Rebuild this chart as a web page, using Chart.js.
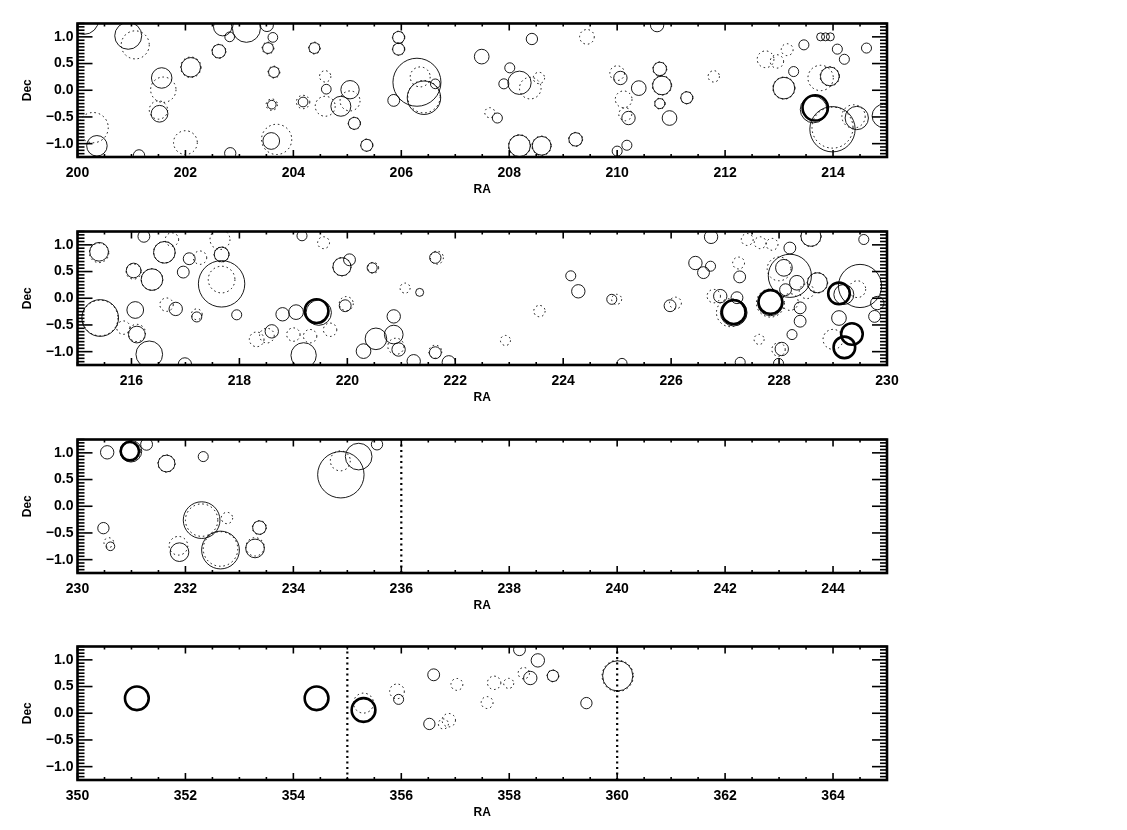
<!DOCTYPE html>
<html>
<head>
<meta charset="utf-8">
<script src="https://cdn.jsdelivr.net/npm/chart.js@4/dist/chart.umd.min.js"></script>
<style>
  body { margin: 0; background: #fff; }
  .panel { position: absolute; left: 0; width: 1127px; height: 207px; }
</style>
</head>
<body>
<div class="panel" style="top:0px"><canvas id="p1" width="1127" height="207"></canvas></div>
<div class="panel" style="top:208px"><canvas id="p2" width="1127" height="207"></canvas></div>
<div class="panel" style="top:416px"><canvas id="p3" width="1127" height="207"></canvas></div>
<div class="panel" style="top:623px"><canvas id="p4" width="1127" height="207"></canvas></div>
<script>
// [RA, Dec, radius in deg]
const p1Thin = [
  [200.12, 1.32, 0.27], [200.94, 1.02, 0.25], [201.56, 0.23, 0.19], [201.52, -0.44, 0.155],
  [202.10, 0.43, 0.18], [202.62, 0.73, 0.125], [202.69, 1.19, 0.17], [202.82, 1.0, 0.09],
  [203.13, 1.16, 0.26], [203.51, 1.22, 0.12], [203.62, 0.99, 0.09], [203.53, 0.79, 0.1],
  [203.64, 0.34, 0.1], [203.6, -0.27, 0.08], [203.59, -0.95, 0.155], [201.14, -1.22, 0.105],
  [202.83, -1.18, 0.105], [200.36, -1.04, 0.19], [204.39, 0.79, 0.1], [204.61, 0.02, 0.09],
  [204.18, -0.22, 0.09], [205.05, 0.01, 0.17], [204.88, -0.30, 0.185], [205.13, -0.62, 0.11],
  [205.36, -1.03, 0.11], [205.95, 0.99, 0.11], [205.95, 0.77, 0.11], [206.29, 0.15, 0.445],
  [206.42, -0.14, 0.31], [206.63, 0.12, 0.09], [205.86, -0.19, 0.11],
  [208.42, 0.96, 0.105], [207.49, 0.63, 0.136], [208.01, 0.42, 0.093], [207.9, 0.12, 0.093],
  [208.19, 0.14, 0.216], [207.78, -0.52, 0.093], [208.19, -1.04, 0.2], [208.6, -1.04, 0.173],
  [209.23, -0.92, 0.124], [210.18, -1.03, 0.093], [210.0, -1.14, 0.093], [210.74, 1.22, 0.124],
  [210.06, 0.23, 0.124], [210.40, 0.04, 0.136], [210.21, -0.52, 0.124], [210.79, 0.40, 0.124],
  [210.83, 0.09, 0.173], [210.79, -0.25, 0.093], [210.97, -0.52, 0.136], [211.29, -0.14, 0.11],
  [213.46, 0.85, 0.093], [213.27, 0.35, 0.093], [213.09, 0.04, 0.2], [213.77, 1.0, 0.074],
  [213.86, 1.0, 0.074], [213.95, 1.0, 0.074], [214.08, 0.77, 0.093], [214.21, 0.58, 0.093],
  [214.62, 0.79, 0.093], [213.94, 0.26, 0.173], [213.64, -0.36, 0.247], [213.99, -0.73, 0.42],
  [214.44, -0.52, 0.216], [214.94, -0.48, 0.216]
];
const p1Dotted = [
  [201.07, 0.85, 0.26], [201.59, 0.01, 0.235], [201.5, -0.37, 0.17], [202.10, 0.43, 0.19],
  [202.62, 0.73, 0.13], [203.53, 0.79, 0.11], [203.64, 0.34, 0.11], [203.6, -0.27, 0.105],
  [203.69, -0.92, 0.28], [202.0, -0.98, 0.22], [200.29, -0.70, 0.28], [204.39, 0.79, 0.11],
  [204.59, 0.26, 0.105], [204.18, -0.22, 0.124], [204.59, -0.30, 0.185], [205.05, -0.2, 0.185],
  [205.13, -0.62, 0.115], [205.36, -1.03, 0.115], [205.95, 0.99, 0.115], [205.95, 0.77, 0.115],
  [206.35, 0.25, 0.185], [206.42, -0.12, 0.3],
  [209.44, 1.0, 0.136], [208.39, 0.04, 0.2], [208.55, 0.23, 0.105], [207.64, -0.42, 0.093],
  [208.19, -1.04, 0.205], [208.6, -1.04, 0.18], [209.23, -0.92, 0.13], [210.0, 0.32, 0.136],
  [210.12, -0.17, 0.155], [210.15, -0.45, 0.12], [210.79, 0.40, 0.13], [210.83, 0.09, 0.18],
  [210.79, -0.25, 0.1], [211.29, -0.14, 0.115], [211.79, 0.26, 0.105], [212.75, 0.58, 0.155],
  [212.96, 0.54, 0.124], [213.15, 0.76, 0.11], [213.09, 0.04, 0.205], [213.77, 0.23, 0.235],
  [213.94, 0.26, 0.18], [213.99, -0.7, 0.38], [214.38, -0.49, 0.216]
];
const p1Thick = [[213.67, -0.33, 0.235]];

const p2Thin = [
  [215.40, 0.87, 0.173], [216.23, 1.16, 0.11], [216.04, 0.52, 0.136], [216.38, 0.35, 0.2],
  [216.61, 0.86, 0.2], [217.07, 0.74, 0.11], [216.96, 0.49, 0.11], [217.67, 0.82, 0.136],
  [217.67, 0.27, 0.43], [217.95, -0.31, 0.093], [215.42, -0.37, 0.34], [216.07, -0.22, 0.155],
  [216.1, -0.68, 0.155], [216.33, -1.05, 0.247], [216.99, -1.24, 0.124], [216.82, -0.2, 0.124],
  [217.21, -0.35, 0.093], [218.8, -0.3, 0.124], [219.05, -0.26, 0.136], [219.47, -0.27, 0.235],
  [218.6, -0.62, 0.124], [219.19, -1.07, 0.235], [219.16, 1.17, 0.093], [219.9, 0.59, 0.167],
  [220.04, 0.72, 0.11], [219.96, -0.14, 0.11], [220.46, 0.57, 0.093], [221.34, 0.11, 0.074],
  [221.63, 0.76, 0.105], [220.86, -0.34, 0.124], [220.53, -0.76, 0.2], [220.86, -0.68, 0.173],
  [220.3, -0.99, 0.136], [220.95, -0.96, 0.124], [221.23, -1.18, 0.124], [221.63, -1.02, 0.11],
  [221.88, -1.2, 0.124],
  [224.14, 0.42, 0.093], [224.28, 0.13, 0.124], [224.9, -0.02, 0.093], [225.09, -1.22, 0.093],
  [225.98, -0.14, 0.11], [226.45, 0.66, 0.124], [226.73, 0.6, 0.093], [226.6, 0.48, 0.11],
  [226.74, 1.15, 0.124], [227.27, 0.40, 0.11], [226.91, 0.04, 0.124], [227.22, 0.01, 0.11],
  [227.16, -0.27, 0.247], [227.84, -0.09, 0.235], [228.2, 0.94, 0.11], [228.59, 1.16, 0.185],
  [228.09, 0.57, 0.155], [228.2, 0.42, 0.4], [228.33, 0.29, 0.136], [228.12, 0.16, 0.11],
  [228.71, 0.29, 0.185], [229.57, 1.1, 0.093], [229.5, 0.23, 0.4], [229.2, 0.07, 0.185],
  [229.11, -0.37, 0.136], [229.77, -0.34, 0.11], [229.82, -0.09, 0.124], [228.39, -0.18, 0.11],
  [228.39, -0.43, 0.11], [228.24, -0.68, 0.093], [228.05, -0.95, 0.124], [227.99, -1.22, 0.093],
  [227.28, -1.2, 0.093]
];
const p2Dotted = [
  [215.40, 0.85, 0.18], [216.04, 0.5, 0.14], [216.38, 0.35, 0.2], [216.61, 0.86, 0.2],
  [216.75, 1.1, 0.124], [217.27, 0.76, 0.124], [217.64, 1.1, 0.185], [217.67, 0.82, 0.14],
  [217.67, 0.35, 0.247], [215.42, -0.37, 0.33], [215.85, -0.55, 0.124], [216.1, -0.65, 0.16],
  [216.65, -0.12, 0.124], [217.21, -0.3, 0.1], [218.51, -0.7, 0.136], [218.32, -0.77, 0.136],
  [219.0, -0.68, 0.124], [219.31, -0.71, 0.124], [219.68, -0.59, 0.124], [219.56, 1.04, 0.11],
  [219.9, 0.59, 0.17], [219.98, -0.1, 0.13], [220.48, 0.57, 0.1], [221.07, 0.19, 0.093],
  [221.66, 0.76, 0.12], [221.63, -1.0, 0.12], [220.9, -0.9, 0.15],
  [223.56, -0.24, 0.105], [222.93, -0.79, 0.093], [224.99, -0.02, 0.093], [226.08, -0.09, 0.11],
  [227.25, 0.66, 0.11], [226.79, 0.04, 0.124], [227.1, -0.27, 0.26], [227.84, -0.09, 0.26],
  [227.41, 1.1, 0.11], [227.65, 1.04, 0.11], [227.87, 1.01, 0.11], [228.59, 1.16, 0.19],
  [228.0, 0.55, 0.22], [228.71, 0.29, 0.19], [228.2, -0.07, 0.155], [228.51, 0.13, 0.136],
  [229.0, -0.77, 0.185], [227.63, -0.77, 0.093], [227.99, -0.96, 0.124], [229.45, 0.17, 0.155]
];
const p2Thick = [
  [219.43, -0.24, 0.22], [227.16, -0.26, 0.22], [227.84, -0.07, 0.22],
  [229.11, 0.09, 0.2], [229.35, -0.67, 0.2], [229.21, -0.92, 0.2]
];

const p3Thin = [
  [230.55, 1.01, 0.124], [230.99, 1.03, 0.2], [231.28, 1.16, 0.11], [231.65, 0.80, 0.155],
  [232.33, 0.93, 0.093], [230.48, -0.41, 0.105], [230.61, -0.75, 0.08], [232.3, -0.26, 0.34],
  [231.89, -0.86, 0.173], [232.65, -0.82, 0.35], [233.29, -0.79, 0.173], [233.37, -0.40, 0.124],
  [234.88, 0.59, 0.43], [235.21, 0.93, 0.247], [235.55, 1.16, 0.105]
];
const p3Dotted = [
  [230.99, 1.03, 0.18], [231.65, 0.8, 0.16], [230.58, -0.68, 0.09], [232.3, -0.26, 0.3],
  [232.77, -0.22, 0.105], [231.87, -0.74, 0.173], [232.65, -0.8, 0.32], [233.29, -0.76, 0.17],
  [233.37, -0.40, 0.13], [234.87, 0.85, 0.185]
];
const p3Thick = [[230.97, 1.03, 0.17]];

const p4Thin = [
  [355.95, 0.26, 0.093], [356.6, 0.72, 0.11], [356.52, -0.2, 0.105], [358.19, 1.19, 0.11],
  [358.53, 0.99, 0.124], [358.39, 0.66, 0.124], [358.81, 0.7, 0.105], [359.43, 0.19, 0.105],
  [360.01, 0.70, 0.28]
];
const p4Dotted = [
  [355.3, 0.19, 0.185], [355.92, 0.41, 0.136], [356.88, -0.13, 0.124], [356.78, -0.2, 0.093],
  [357.03, 0.54, 0.11], [357.59, 0.20, 0.11], [357.72, 0.57, 0.124], [357.99, 0.56, 0.093],
  [358.27, 0.75, 0.105], [358.81, 0.7, 0.11], [360.01, 0.70, 0.29]
];
const p4Thick = [[351.10, 0.28, 0.22], [354.43, 0.28, 0.22], [355.30, 0.06, 0.22]];

const raRanges = [[200, 215], [215, 230], [230, 245], [350, 365]];
const markerRA = [[], [], [236], [355, 360]];
const decRange = [-1.25, 1.25];
const decTicks = [-1.0, -0.5, 0.0, 0.5, 1.0];
const decMinorStep = 0.0625;
const raTickStep = 2;
const raMinorStep = 0.5;

const panels = [
  { id: 'p1', thin: p1Thin, dotted: p1Dotted, thick: p1Thick },
  { id: 'p2', thin: p2Thin, dotted: p2Dotted, thick: p2Thick },
  { id: 'p3', thin: p3Thin, dotted: p3Dotted, thick: p3Thick },
  { id: 'p4', thin: p4Thin, dotted: p4Dotted, thick: p4Thick }
];

const toPts = arr => arr.map(d => ({ x: d[0], y: d[1], size: d[2] }));

// radius in degrees -> pixels via the x scale
const pxRadius = ctx => {
  const s = ctx.chart.scales.x;
  return ctx.raw.size * Math.abs(s.getPixelForValue(1) - s.getPixelForValue(0));
};

const circleSet = (data, width, dash) => ({
  type: 'scatter',
  data: toPts(data),
  borderColor: '#000',
  backgroundColor: 'rgba(0,0,0,0)',
  borderWidth: width,
  pointRadius: pxRadius,
  pointHoverRadius: pxRadius,
  dotted: dash,
  clip: 0
});

const dashPlugin = {
  id: 'dash',
  beforeDatasetDraw(chart, args) {
    const ds = chart.data.datasets[args.index];
    if (ds.dotted) { chart.ctx.save(); chart.ctx.setLineDash(ds.dotted); }
  },
  afterDatasetDraw(chart, args) {
    const ds = chart.data.datasets[args.index];
    if (ds.dotted) chart.ctx.restore();
  }
};

// IDL style box with ticks on all four sides
const framePlugin = {
  id: 'frame',
  afterDraw(chart) {
    const { ctx, chartArea: a, scales: { x, y } } = chart;
    const seg = (x1, y1, x2, y2) => { ctx.beginPath(); ctx.moveTo(x1, y1); ctx.lineTo(x2, y2); ctx.stroke(); };
    ctx.save();
    ctx.strokeStyle = '#000';
    ctx.lineWidth = 1.6;
    const nY = Math.floor(decRange[1] / decMinorStep);
    const perMajor = Math.round(0.5 / decMinorStep);
    for (let k = -nY; k <= nY; k++) {
      const py = y.getPixelForValue(k * decMinorStep);
      const len = k % perMajor === 0 ? 15 : 7;
      seg(a.left, py, a.left + len, py);
      seg(a.right, py, a.right - len, py);
    }
    for (let v = Math.ceil(x.min / raMinorStep) * raMinorStep; v <= x.max; v += raMinorStep) {
      const px = x.getPixelForValue(v);
      const len = v % raTickStep === 0 ? 7 : 3;
      seg(px, a.bottom, px, a.bottom - len);
      seg(px, a.top, px, a.top + len);
    }
    ctx.lineWidth = 2.6;
    ctx.strokeRect(a.left, a.top, a.right - a.left, a.bottom - a.top);
    ctx.restore();
  }
};

const tickFont = { family: 'Liberation Sans', size: 14, weight: 'bold' };
const titleFont = { family: 'Liberation Sans', size: 12, weight: 'bold' };

panels.forEach((p, i) => {
  const [lo, hi] = raRanges[i];
  const datasets = [
    circleSet(p.dotted, 1, [1.5, 3]),
    circleSet(p.thin, 0.9, null),
    circleSet(p.thick, 2.6, null)
  ];
  markerRA[i].forEach(ra => {
    datasets.push({
      type: 'line',
      data: [{ x: ra, y: decRange[0] }, { x: ra, y: decRange[1] }],
      borderColor: '#000',
      borderWidth: 2.2,
      borderDash: [2, 3.5],
      pointRadius: 0,
      fill: false
    });
  });

  new Chart(document.getElementById(p.id), {
    type: 'scatter',
    data: { datasets },
    options: {
      responsive: false,
      animation: false,
      events: [],
      layout: { padding: { left: 0, right: 240, top: 23.5, bottom: 0 } },
      plugins: { legend: { display: false }, tooltip: { enabled: false } },
      scales: {
        x: {
          type: 'linear', min: lo, max: hi,
          afterFit: s => { s.height = 50; },
          afterBuildTicks: s => {
            const t = [];
            for (let v = Math.ceil(lo / raTickStep) * raTickStep; v <= hi; v += raTickStep) t.push({ value: v });
            s.ticks = t;
          },
          grid: { display: false, drawTicks: false },
          border: { display: false },
          ticks: { color: '#000', font: tickFont, padding: 8, maxRotation: 0, autoSkip: false },
          title: { display: true, text: 'RA', color: '#000', font: titleFont, padding: { top: 0, bottom: 10 } }
        },
        y: {
          type: 'linear', min: decRange[0], max: decRange[1],
          afterFit: s => { s.width = 77.5; },
          afterBuildTicks: s => { s.ticks = decTicks.map(v => ({ value: v })); },
          grid: { display: false, drawTicks: false },
          border: { display: false },
          ticks: {
            color: '#000', font: tickFont, padding: 4,
            callback: v => (v < 0 ? '\u2212' : '') + Math.abs(v).toFixed(1)
          },
          title: { display: true, text: 'Dec', color: '#000', font: titleFont, padding: { top: 20, bottom: 0 } }
        }
      }
    },
    plugins: [dashPlugin, framePlugin]
  });
});
</script>
</body>
</html>
